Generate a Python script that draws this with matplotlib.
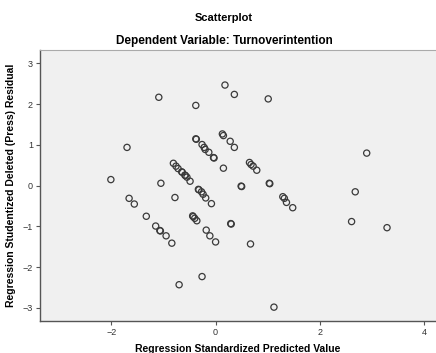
import matplotlib
matplotlib.use('Agg')
import matplotlib.pyplot as plt
import numpy as np

plt.rcParams['font.family'] = ['Liberation Sans', 'DejaVu Sans']

# predicted value (x) and studentized deleted residual (y)
pred = [0.18, -1.09, -0.38, 0.36, 1.01, -1.70, -0.38, -0.37, -0.26, -0.22, -0.20, -0.13,
        -0.04, -0.03, 0.13, 0.15, 0.28, 0.36, 0.15, 0.65, 0.68, 0.72, 0.79, 2.90,
        -2.01, -1.05, -0.81, -0.76, -0.72, -0.65, -0.64, -0.59, -0.58, -0.55, -0.49,
        -0.33, -0.32, -0.27, -0.24, -0.19, -0.08, 0.49, 0.50, 1.03, 1.04, 1.29, 1.32,
        1.36, 1.48, 2.68, -1.66, -1.56, -0.78, -1.33, -1.15, -1.07, -1.06, -0.95, -0.84,
        -0.44, -0.43, -0.40, -0.36, -0.18, -0.11, 0.00, 0.29, 0.30, 0.67, 2.61, 3.29,
        -0.26, -0.70, 1.12]
resid = [2.47, 2.17, 1.97, 2.24, 2.13, 0.94, 1.15, 1.14, 1.01, 0.94, 0.89, 0.82,
         0.69, 0.68, 1.27, 1.23, 1.09, 0.94, 0.43, 0.57, 0.52, 0.48, 0.38, 0.80,
         0.15, 0.06, 0.55, 0.48, 0.42, 0.34, 0.33, 0.26, 0.25, 0.21, 0.11,
         -0.09, -0.10, -0.15, -0.21, -0.30, -0.44, -0.01, -0.02, 0.06, 0.05, -0.27, -0.31,
         -0.41, -0.54, -0.15, -0.31, -0.45, -0.29, -0.75, -0.99, -1.10, -1.11, -1.23, -1.41,
         -0.74, -0.76, -0.80, -0.86, -1.09, -1.23, -1.38, -0.93, -0.94, -1.43, -0.88, -1.03,
         -2.23, -2.43, -2.98]

xticks = [-2, 0, 2, 4]
yticks = [-3, -2, -1, 0, 1, 2, 3]

fig = plt.figure(figsize=(4.36, 3.53), dpi=100)
ax = fig.add_axes([40/436, 32/353, 396/436, 271/353])
ax.set_facecolor('#f0f0f0')

ax.scatter(pred, resid, s=20, facecolors='none', edgecolors='#3a3a3a', linewidths=0.9)

ax.set_xlim(-3.37, 4.23)
ax.set_ylim(-3.32, 3.33)
ax.set_xticks(xticks)
ax.set_yticks(yticks)
ax.tick_params(labelsize=6.5, length=3, width=0.8, colors='#555555', labelcolor='#333333', pad=2)

for side in ['left', 'bottom']:
    ax.spines[side].set_color('#555555')
    ax.spines[side].set_linewidth(1.0)
ax.spines['top'].set_color('#aaaaaa')
ax.spines['right'].set_visible(False)

ax.set_xlabel('Regression Standardized Predicted Value', fontsize=7.5, fontweight='bold', labelpad=5)
ax.set_ylabel('Regression Studentized Deleted (Press) Residual', fontsize=7.5, fontweight='bold', labelpad=5)

fig.text(224/436, 1 - 18/353, 'Scatterplot', ha='center', va='center', fontsize=8, fontweight='bold')
fig.text(224/436, 1 - 41/353, 'Dependent Variable: Turnoverintention', ha='center', va='center',
         fontsize=8.5, fontweight='bold')

fig.savefig('out.png', dpi=100)
